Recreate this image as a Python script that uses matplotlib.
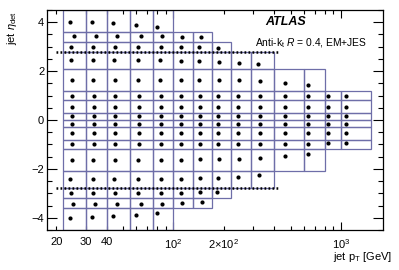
import math
import matplotlib
matplotlib.use('Agg')
import matplotlib.pyplot as plt
from matplotlib.patches import Rectangle
from matplotlib.ticker import FixedLocator, FuncFormatter, MultipleLocator

plt.rcParams['font.family'] = ['Liberation Sans', 'DejaVu Sans']
plt.rcParams['mathtext.fontset'] = 'custom'
plt.rcParams['mathtext.rm'] = 'Liberation Sans'
plt.rcParams['mathtext.it'] = 'Liberation Sans:italic'
plt.rcParams['mathtext.bf'] = 'Liberation Sans:bold'

# ---- data ----
pt_edges = [22, 30, 40, 55, 75, 100, 130, 170, 220, 290, 400, 600, 800, 1000, 1500]
eta_edges = [-4.5, -3.6, -3.2, -2.8, -2.1, -1.2, -0.8, -0.3, 0.0,
             0.3, 0.8, 1.2, 2.1, 2.8, 3.2, 3.6, 4.5]
bins_per_row = [5, 7, 8, 10, 12, 14, 14, 14, 14, 14, 14, 12, 10, 8, 7, 5]

central_pt = [24.9, 33.5, 45.0, 62.2, 84.2, 110.9, 143.9, 185.1, 243.8, 328.5,
              463.3, 637.9, 840.0, 1070.0]

dot_pt = [
    [24.1, 32.7, 43.7, 59.7, 79.4],
    [25.2, 34.0, 46.2, 63.7, 85.7, 112.9, 147.4],
    [24.4, 33.2, 44.7, 61.6, 84.2, 110.9, 143.9, 181.1],
    [24.1, 32.9, 44.3, 61.1, 83.9, 110.9, 143.9, 185.1, 243.8, 325.3],
    [24.7, 33.2, 44.7, 61.6, 83.9, 110.9, 143.9, 187.7, 247.1, 328.5, 463.3, 637.9],
    central_pt,
    central_pt,
    central_pt,
    central_pt,
    central_pt,
    central_pt,
    [24.7, 33.2, 44.7, 61.6, 83.6, 110.9, 143.0, 188.2, 245.8, 328.5, 463.3, 635.3],
    [24.4, 32.9, 44.3, 61.1, 83.1, 110.9, 142.9, 188.2, 244.6, 321.5],
    [24.5, 33.2, 44.7, 61.6, 84.2, 110.9, 142.5, 183.7],
    [25.5, 34.3, 46.2, 63.7, 85.7, 111.9, 145.9],
    [24.1, 32.7, 43.7, 59.7, 79.4],
]
dot_eta = [
    [-4.02, -3.98, -3.94, -3.89, -3.82],
    [-3.43, -3.43, -3.43, -3.43, -3.42, -3.38, -3.34],
    [-3.0, -3.0, -3.0, -3.0, -3.0, -2.98, -2.93, -2.95],
    [-2.42, -2.42, -2.42, -2.42, -2.42, -2.41, -2.38, -2.38, -2.34, -2.27],
    [-1.63, -1.63, -1.63, -1.63, -1.63, -1.63, -1.6, -1.6, -1.58, -1.56, -1.49, -1.39],
    [-1.0] * 12 + [-0.95, -0.95],
    [-0.55] * 14,
    [-0.15] * 14,
    [0.16] * 14,
    [0.55] * 14,
    [0.99] * 13 + [0.97],
    [1.65, 1.65, 1.65, 1.65, 1.65, 1.65, 1.64, 1.63, 1.63, 1.6, 1.5, 1.42],
    [2.45, 2.45, 2.45, 2.45, 2.44, 2.42, 2.42, 2.39, 2.35, 2.31],
    [3.0, 3.0, 3.0, 3.0, 3.0, 3.0, 2.99, 2.95],
    [3.45, 3.45, 3.45, 3.45, 3.44, 3.41, 3.38],
    [4.01, 3.99, 3.95, 3.88, 3.81],
]
dotted_eta = [-2.8, 2.8]
dotted_pt = [20, 430]

x_major = [100, 1000]
x_minor = [20, 30, 40, 50, 60, 70, 80, 90, 200, 300, 400, 500, 600, 700, 800, 900]
x_minor_labels = {20: '20', 30: '30', 40: '40', 200: r'$2{\times}10^{2}$'}

# ---- figure ----
W, H = 399, 270
fig = plt.figure(figsize=(W / 100, H / 100), dpi=100)
ax = fig.add_axes([47 / W, 1 - 230 / H, (383 - 47) / W, 220 / H])
ax.set_xscale('log')
ax.set_xlim(17.6, 1780)
ax.set_ylim(-4.5, 4.5)

edge_col = '#6e6ea8'
for r in range(len(bins_per_row)):
    e0, e1 = eta_edges[r], eta_edges[r + 1]
    for c in range(bins_per_row[r]):
        p0, p1 = pt_edges[c], pt_edges[c + 1]
        ax.add_patch(Rectangle((p0, e0), p1 - p0, e1 - e0, fill=False,
                               edgecolor=edge_col, linewidth=0.9, zorder=2))
    ax.plot(dot_pt[r], dot_eta[r], 'o', color='black', markersize=3.0,
            markeredgewidth=0, zorder=3)

for e in dotted_eta:
    ax.plot(dotted_pt, [e, e], color='black', linewidth=1.8,
            linestyle=(0, (0.7, 0.9)), zorder=4)

ax.xaxis.set_major_locator(FixedLocator(x_major))
ax.xaxis.set_major_formatter(FuncFormatter(lambda v, p: r'$10^{%d}$' % round(math.log10(v))))
ax.xaxis.set_minor_locator(FixedLocator(x_minor))
ax.xaxis.set_minor_formatter(FuncFormatter(lambda v, p: x_minor_labels.get(int(round(v)), '')))
ax.yaxis.set_major_locator(MultipleLocator(2))
ax.yaxis.set_minor_locator(MultipleLocator(0.5))

ax.tick_params(which='both', direction='in', top=True, right=True,
               labelsize=8, width=0.8, colors='black')
ax.tick_params(axis='y', which='major', length=7, pad=2)
ax.tick_params(axis='y', which='minor', length=3.6)
ax.tick_params(axis='x', which='major', length=6, pad=5)
ax.tick_params(axis='x', which='minor', length=3, pad=5)
for s in ax.spines.values():
    s.set_linewidth(0.9)

fig.text(12 / W, 1 - 11 / H, r'jet $\eta_{\rm det}$', rotation=90, ha='center',
         va='top', fontsize=8)
fig.text(392 / W, 1 - 257 / H, r'jet p$_{\rm T}$ [GeV]', ha='right',
         va='center', fontsize=8)
fig.text(286 / W, 1 - 22 / H, 'ATLAS', ha='center', va='center', fontsize=9,
         fontweight='bold', fontstyle='italic')
fig.text(367 / W, 1 - 43 / H, r'Anti-k$_{\rm t}$ $R$ = 0.4, EM+JES', ha='right',
         va='center', fontsize=7.4)

fig.savefig('out.png', dpi=100)
